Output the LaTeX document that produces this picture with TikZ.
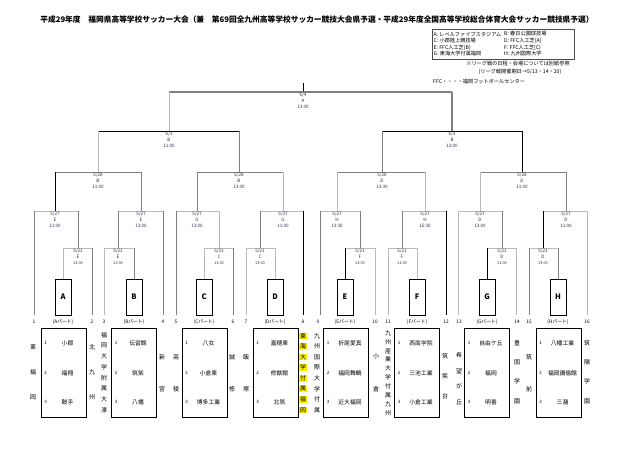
\documentclass[tikz,border=0pt]{standalone}
\usepackage{fontspec}
\setmainfont{Noto Sans CJK JP}
\definecolor{labc}{RGB}{45,45,75}
\tikzset{
  lk/.style={draw=black,line width=0.9bp},
  lg/.style={draw=black!50,line width=0.9bp},
  ll/.style={draw=black!27,line width=0.9bp},
  lab/.style={font=\fontsize{4.6}{6}\selectfont,align=center,text=labc,inner sep=0},
  pbox/.style={draw=black,line width=0.9bp,minimum width=16bp,minimum height=36bp,inner sep=0,font=\fontsize{7.5}{8}\selectfont\bfseries},
  tbox/.style={draw=black,line width=0.9bp,minimum width=45bp,minimum height=89bp,inner sep=0},
  tnum/.style={font=\fontsize{4.5}{5}\selectfont,inner sep=0},
  tname/.style={font=\fontsize{5.8}{6}\selectfont,inner sep=0},
  vch/.style={font=\fontsize{6}{6}\selectfont,inner sep=0},
  vhl/.style={vch,fill=yellow,inner sep=0.6bp},
  num/.style={font=\fontsize{4.8}{5}\selectfont,inner sep=0},
  leg/.style={font=\fontsize{5.2}{6}\selectfont,inner sep=0,anchor=west}
}
\newcommand\mlab[6]{\node[lab,anchor=north] (#1) at (#2,#3+0.6) {#4\\#5\\#6};}
\newcommand\vname[7]{\foreach \c [count=\i] in {#6} {\node[#7] (#1-\i) at (#2,{#3+(\i-1)*(#4-#3)/(#5-1)}) {\c};}}
\newcommand\teambox[5]{%
  \node[tbox] (#1) at (#2,372.5) {};
  \node[tnum] (#1-n1) at (#2-18,343) {1};
  \node[tnum] (#1-n2) at (#2-18,373) {2};
  \node[tnum] (#1-n3) at (#2-18,402) {3};
  \node[tname] (#1-t1) at (#2+4,343) {#3};
  \node[tname] (#1-t2) at (#2+4,373) {#4};
  \node[tname] (#1-t3) at (#2+4,402) {#5};}
\begin{document}
\begin{tikzpicture}[x=1bp,y=-1bp]
\useasboundingbox (0,0) rectangle (640,453);
% title
\node[font=\fontsize{7.75}{9}\selectfont\bfseries,inner sep=0] (title) at (317,20) {平成29年度　福岡県高等学校サッカー大会（兼　第69回全九州高等学校サッカー競技大会県予選・平成29年度全国高等学校総合体育大会サッカー競技県予選）};
% legend
\node[draw=black!70,line width=0.6bp,minimum width=142bp,minimum height=30bp,inner sep=0] (legend) at (503,44) {};
\node[leg] (la) at (433.5,34) {A: レベルファイブスタジアム};
\node[leg] (lb) at (504,34) {B: 春日公園球技場};
\node[leg] (lc) at (433.5,41) {C: 小郡陸上競技場};
\node[leg] (ld) at (504,41) {D: FFC人工芝(A)};
\node[leg] (le) at (433.5,47.5) {E: FFC人工芝(B)};
\node[leg] (lf) at (504,47.5) {F: FFC人工芝(C)};
\node[leg] (lgg) at (433.5,54) {G: 東海大学付属福岡};
\node[leg] (lh) at (504,54) {H: 九州国際大学};
\node[leg,anchor=center] (note1) at (518,64) {※リーグ戦の日程・会場については別紙参照};
\node[leg,anchor=center] (note2) at (520,72) {(リーグ戦開催期日→5/13・14・20)};
\node[leg] (note3) at (433,82) {FFC・・・・福岡フットボールセンター};
% final and semifinals
\coordinate (fin) at (303,83);
\draw[lk] (fin) -- (303,92);
\draw[lg,line width=1.4bp] (169,92) -- (452,92);
\draw[ll] (169,92) -- (169,131);
\draw[lg,line width=1.4bp] (452,92) -- (452,131);
\draw[lk] (98,131) -- (239,131);
\draw[lk] (382,131) -- (522,131);
% quarterfinals
\draw[ll] (98,131) -- (98,172);
\draw[lg] (239,131) -- (239,172);
\draw[lg] (382,131) -- (382,172);
\draw[lk] (522,131) -- (522,172);
\draw[lg] (55,172) -- (141,172);
\draw[lg] (197,172) -- (283,172);
\draw[lg] (337,172) -- (425,172);
\draw[lg] (480,172) -- (566,172);
% round of 16
\draw[lk] (55,172) -- (55,211);
\draw[lg] (141,172) -- (141,211);
\draw[lg] (197,172) -- (197,211);
\draw[ll] (283,172) -- (283,211);
\draw[ll] (337,172) -- (337,211);
\draw[ll] (425,172) -- (425,211);
\draw[ll] (480,172) -- (480,211);
\draw[lg] (566,172) -- (566,211);
\foreach \a/\b in {34/78,118/163,176/219,260/303,320/360,402/446,458/502,543/587} \draw[ll] (\a,211) -- (\b,211);
% from 5/27 lines
\draw[lg] (34,211) -- (34,315);
\draw[lg] (78,211) -- (78,248);
\draw[lg] (118,211) -- (118,248);
\draw[lg] (163,211) -- (163,315);
\draw[lg] (176,211) -- (176,315);
\draw[ll] (219,211) -- (219,248);
\draw[lg] (260,211) -- (260,248);
\draw[lk] (303,211) -- (303,315);
\draw[lg] (320,211) -- (320,315);
\draw[lg] (360,211) -- (360,248);
\draw[lg] (402,211) -- (402,248);
\draw[lk] (446,211) -- (446,315);
\draw[ll] (458,211) -- (458,315);
\draw[lg] (502,211) -- (502,248);
\draw[lk] (543,211) -- (543,248);
\draw[ll] (587,211) -- (587,315);
% 5/21 lines
\foreach \a/\b in {63/92,104/134,204/233,246/275,345/375,388/417,487/516,529/558} \draw[ll] (\a,248) -- (\b,248);
% part boxes
\node[pbox] (A) at (63,297) {A};
\node[pbox] (B) at (134,297) {B};
\node[pbox] (C) at (204,297) {C};
\node[pbox] (D) at (275,297) {D};
\node[pbox] (E) at (345,297) {E};
\node[pbox] (F) at (417,297) {F};
\node[pbox] (G) at (487,297) {G};
\node[pbox] (H) at (558,297) {H};
\draw[ll] (63,248) -- (A.north);
\draw[lg] (92,248) -- (92,315);
\draw[ll] (104,248) -- (104,315);
\draw[lg] (134,248) -- (B.north);
\draw[ll] (204,248) -- (C.north);
\draw[lg] (233,248) -- (233,315);
\draw[ll] (246,248) -- (246,315);
\draw[ll] (275,248) -- (D.north);
\draw[lk] (345,248) -- (E.north);
\draw[ll] (375,248) -- (375,315);
\draw[ll] (388,248) -- (388,315);
\draw[ll] (417,248) -- (F.north);
\draw[lk] (487,248) -- (G.north);
\draw[ll] (516,248) -- (516,315);
\draw[lg] (529,248) -- (529,315);
\draw[lg] (558,248) -- (H.north);
% match labels
\mlab{m1}{303}{92}{6/4}{A}{13:00}
\mlab{m2}{169}{131}{6/3}{B}{11:00}
\mlab{m3}{452}{131}{6/3}{B}{13:00}
\mlab{m4}{98}{172}{5/28}{B}{11:00}
\mlab{m5}{239}{172}{5/28}{B}{13:00}
\mlab{m6}{382}{172}{5/28}{D}{13:30}
\mlab{m7}{522}{172}{5/28}{D}{11:00}
\mlab{m8}{55}{211}{5/27}{E}{11:00}
\mlab{m9}{141}{211}{5/27}{E}{13:00}
\mlab{m10}{197}{211}{5/27}{G}{13:00}
\mlab{m11}{283}{211}{5/27}{G}{11:00}
\mlab{m12}{337}{211}{5/27}{H}{13:30}
\mlab{m13}{425}{211}{5/27}{H}{15:30}
\mlab{m14}{480}{211}{5/27}{D}{13:00}
\mlab{m15}{566}{211}{5/27}{D}{11:00}
\mlab{m16}{78}{248}{5/21}{E}{\fontsize{3.9}{6}\selectfont 13:00}
\mlab{m17}{118}{248}{5/21}{E}{\fontsize{3.9}{6}\selectfont 11:00}
\mlab{m18}{219}{248}{5/21}{C}{\fontsize{3.9}{6}\selectfont 11:00}
\mlab{m19}{260}{248}{5/21}{C}{\fontsize{3.9}{6}\selectfont 13:00}
\mlab{m20}{360}{248}{5/21}{F}{\fontsize{3.9}{6}\selectfont 13:00}
\mlab{m21}{402}{248}{5/21}{F}{\fontsize{3.9}{6}\selectfont 11:00}
\mlab{m22}{502}{248}{5/21}{D}{\fontsize{3.9}{6}\selectfont 11:00}
\mlab{m23}{543}{248}{5/21}{D}{\fontsize{3.9}{6}\selectfont 13:00}
% slot numbers and part labels
\foreach \x/\n in {34/1,92/2,104/3,163/4,176/5,233/6,246/7,303/8,318/9,375/10,388/11,446/12,459/13,517/14,529/15,587/16} \node[num] (s\n) at (\x,322) {\n};
\foreach \x/\p in {63/A,134/B,204/C,275/D,345/E,417/F,487/G,558/H} \node[num] (p\p) at (\x,322) {({\p}パート)};
% team boxes
\teambox{TA}{63.5}{小郡}{福翔}{鞍手}
\teambox{TB}{134}{伝習館}{筑紫}{八幡}
\teambox{TC}{204.5}{八女}{小倉東}{博多工業}
\teambox{TD}{275.5}{嘉穂東}{修猷館}{北筑}
\teambox{TE}{346}{折尾愛真}{福岡舞鶴}{近大福岡}
\teambox{TF}{417}{西南学院}{三池工業}{小倉工業}
\teambox{TG}{487}{自由ケ丘}{福岡}{明善}
\teambox{TH}{558.5}{八幡工業}{福岡講倫館}{三潴}
% vertical team names
\vname{v1}{33}{347}{397}{3}{東,福,岡}{vch}
\vname{v2}{92}{347}{397}{3}{北,九,州}{vch}
\vname{v3}{104}{335}{410}{8}{福,岡,大,学,附,属,大,濠}{vch}
\vname{v4}{162}{357}{389}{2}{新,宮}{vch}
\vname{v5}{176}{357}{389}{2}{高,稜}{vch}
\vname{v6}{232}{357}{389}{2}{誠,修}{vch}
\vname{v7}{246}{357}{389}{2}{飯,塚}{vch}
\vname{v8}{303}{336}{410}{8}{東,海,大,学,付,属,福,岡}{vhl}
\vname{v9}{317}{336}{410}{8}{九,州,国,際,大,学,付,属}{vch}
\vname{v10}{376}{356}{389}{2}{小,倉}{vch}
\vname{v11}{388}{333}{413}{10}{九,州,産,業,大,学,付,属,九,州}{vch}
\vname{v12}{445}{356}{396}{3}{筑,紫,台}{vch}
\vname{v13}{459}{355}{402}{4}{希,望,が,丘}{vch}
\vname{v14}{517}{343}{401}{4}{豊,国,学,園}{vch}
\vname{v15}{529}{357}{389}{2}{筑,前}{vch}
\vname{v16}{587}{343}{401}{4}{筑,陽,学,園}{vch}
\end{tikzpicture}
\end{document}
